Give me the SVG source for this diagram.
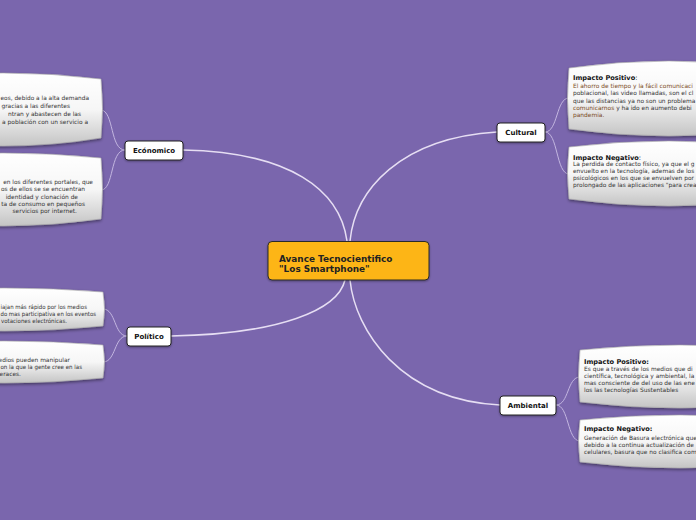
<svg xmlns="http://www.w3.org/2000/svg" width="696" height="520" viewBox="0 0 696 520">
<defs>
<linearGradient id="bg" x1="0" y1="0" x2="0" y2="1">
<stop offset="0" stop-color="#ffffff"/>
<stop offset="0.5" stop-color="#f6f6f6"/>
<stop offset="1" stop-color="#c4c4c4"/>
</linearGradient>
<filter id="sh" x="-10%" y="-20%" width="120%" height="150%">
<feDropShadow dx="0" dy="1.5" stdDeviation="1.5" flood-color="#000" flood-opacity="0.45"/>
</filter>
<filter id="nsh" x="-10%" y="-20%" width="120%" height="150%">
<feDropShadow dx="0" dy="1" stdDeviation="0.8" flood-color="#000" flood-opacity="0.35"/>
</filter>
</defs>
<style>
.box{fill:url(#bg);stroke:#a8a8a8;stroke-width:0.6;filter:url(#sh)}
.node{fill:#ffffff;stroke:#222;stroke-width:1;filter:url(#nsh)}
.main{fill:none;stroke:#e6def3;stroke-width:1.5}
.sub{fill:none;stroke:#c3b6e0;stroke-width:1}
.lbl{font-family:"DejaVu Sans",Verdana,sans-serif;font-weight:bold;font-size:7px;fill:#111;text-anchor:middle}
.t{font-family:"DejaVu Sans",Verdana,sans-serif;font-size:5.9px;fill:#333}
.e{text-anchor:end}
.h{font-family:"DejaVu Sans",Verdana,sans-serif;font-size:6.6px;font-weight:bold;fill:#111}
.br{fill:#7a4a22}
</style>
<rect width="696" height="520" fill="#7a66ad"/>
<g id="connectors">
<path class="main" d="M183,150 C290,152 340,190 347,241"/>
<path class="main" d="M497,132 C400,138 355,190 350,241"/>
<path class="main" d="M171,336 C280,334 338,310 345,280"/>
<path class="main" d="M500,405 C400,400 355,330 350,280"/>
<path class="sub" d="M125,150 C110,150 114,111 101,110"/>
<path class="sub" d="M125,150 C110,150 114,190 101,190"/>
<path class="sub" d="M127,336 C114,336 116,309 103,309"/>
<path class="sub" d="M127,336 C114,336 116,362 103,362"/>
<path class="sub" d="M545,132 C558,132 556,98 569,98"/>
<path class="sub" d="M545,132 C558,132 556,174 569,174"/>
<path class="sub" d="M556,405 C569,405 567,377 580,377"/>
<path class="sub" d="M556,405 C569,405 567,441 580,441"/>
</g>
<g id="center">
<rect x="268" y="241.5" width="161" height="38.5" rx="4" fill="#fdb515" stroke="#2a2a2a" stroke-width="1" filter="url(#nsh)"/>
<text x="279" y="262" font-family="DejaVu Sans,Verdana,sans-serif" font-weight="bold" font-size="8.9" fill="#222">Avance Tecnocientifico</text>
<text x="279" y="271.8" font-family="DejaVu Sans,Verdana,sans-serif" font-weight="bold" font-size="8.9" fill="#222">"Los Smartphone"</text>
</g>
<g id="economico">
<rect class="node" x="125" y="141" width="58" height="19" rx="3"/>
<text class="lbl" x="154" y="153">Ecónomico</text>
</g>
<g id="politico">
<rect class="node" x="127" y="327" width="44" height="19" rx="3"/>
<text class="lbl" x="149" y="339">Político</text>
</g>
<g id="cultural">
<rect class="node" x="497" y="123" width="48" height="19" rx="3"/>
<text class="lbl" x="521" y="135">Cultural</text>
</g>
<g id="ambiental">
<rect class="node" x="500" y="396" width="56" height="19" rx="3"/>
<text class="lbl" x="528" y="408">Ambiental</text>
</g>
<g id="eco1">
<path class="box" d="M-95,79 Q3,67 101,79 Q104,108.5 101,138 Q3,154 -95,138 Z"/>
<text class="t" x="0.5" y="99.5" textLength="88.5" lengthAdjust="spacingAndGlyphs">eos, debido a la alta demanda</text>
<text class="t e" x="70" y="107.7">gracias a las diferentes</text>
<text class="t e" x="81" y="116">ntran y abastecen de las</text>
<text class="t e" x="88" y="124.2">a población con un servicio a</text>
</g>
<g id="eco2">
<path class="box" d="M-95,158 Q3,148 101,158 Q104,188.5 101,219 Q3,233 -95,219 Z"/>
<text class="t e" x="93" y="184">en los diferentes portales, que</text>
<text class="t e" x="85" y="191.3">os de ellos se se encuentran</text>
<text class="t e" x="78" y="198.6">identidad y clonación de</text>
<text class="t e" x="85" y="206">ta de consumo en pequeños</text>
<text class="t e" x="77" y="213.3">servicios por internet.</text>
</g>
<g id="pol1">
<path class="box" d="M-95,292 Q4,284 103,292 Q106,309 103,326 Q4,336 -95,326 Z"/>
<text class="t" x="0.5" y="309" textLength="86.5" lengthAdjust="spacingAndGlyphs">iajan más rápido por los medios</text>
<text class="t" x="0.5" y="316" textLength="95.5" lengthAdjust="spacingAndGlyphs">do mas participativa en los eventos</text>
<text class="t" x="1" y="322.8" textLength="66" lengthAdjust="spacingAndGlyphs">votaciones electrónicas.</text>
</g>
<g id="pol2">
<path class="box" d="M-95,345 Q4,337 103,345 Q106,361.5 103,378 Q4,388 -95,378 Z"/>
<text class="t e" x="70" y="362">edios pueden manipular</text>
<text class="t" x="0.5" y="369" textLength="81.5" lengthAdjust="spacingAndGlyphs">on la que la gente cree en las</text>
<text class="t e" x="21" y="375.8">eraces.</text>
</g>
<g id="cul1">
<path class="box" d="M569,68 Q669,54 769,68 L769,129 Q669,143 569,129 Q566,98.5 569,68 Z"/>
<text class="h" x="573" y="80">Impacto Positivo<tspan font-weight="normal">:</tspan></text>
<text class="t br" x="573" y="88">El ahorro de tiempo y la fácil comunicaci</text>
<text class="t" x="573" y="95.3">poblacional, las video llamadas, son el cl</text>
<text class="t" x="573" y="102.6">que las distancias ya no son un problema</text>
<text class="t" x="573" y="110"><tspan class="br">comunicarnos</tspan> y ha ido en aumento debi</text>
<text class="t br" x="573" y="117.3">pandemia.</text>
</g>
<g id="cul2">
<path class="box" d="M569,147 Q669,135 769,147 L769,199 Q669,213 569,199 Q566,173 569,147 Z"/>
<text class="h" x="573" y="159.5">Impacto Negativo<tspan font-weight="normal">:</tspan></text>
<text class="t" x="573" y="166.3">La perdida de contacto físico, ya que el g</text>
<text class="t" x="573" y="173.3">envuelto en la tecnología, ademas de los</text>
<text class="t" x="573" y="180.3">psicológicos en los que se envuelven por</text>
<text class="t" x="573" y="187.2">prolongado de las aplicaciones "para crea</text>
</g>
<g id="amb1">
<path class="box" d="M580,350 Q680,340 780,350 L780,402 Q680,414 580,402 Q577,376 580,350 Z"/>
<text class="h" x="584" y="363.5">Impacto Positivo:</text>
<text class="t" x="584" y="370.5">Es que a través de los medios que di</text>
<text class="t" x="584" y="377.5">científica, tecnológica y ambiental, la</text>
<text class="t" x="584" y="384.5">mas consciente de del uso de las ene</text>
<text class="t" x="584" y="391.5">los las tecnologías Sustentables</text>
</g>
<g id="amb2">
<path class="box" d="M580,420 Q680,410 780,420 L780,462 Q680,474 580,462 Q577,441 580,420 Z"/>
<text class="h" x="584" y="431">Impacto Negativo:</text>
<text class="t" x="584" y="439.5">Generación de Basura electrónica que</text>
<text class="t" x="584" y="446.5">debido a la continua actualización de</text>
<text class="t" x="584" y="453.5">celulares, basura que no clasifica com</text>
</g>
</svg>
